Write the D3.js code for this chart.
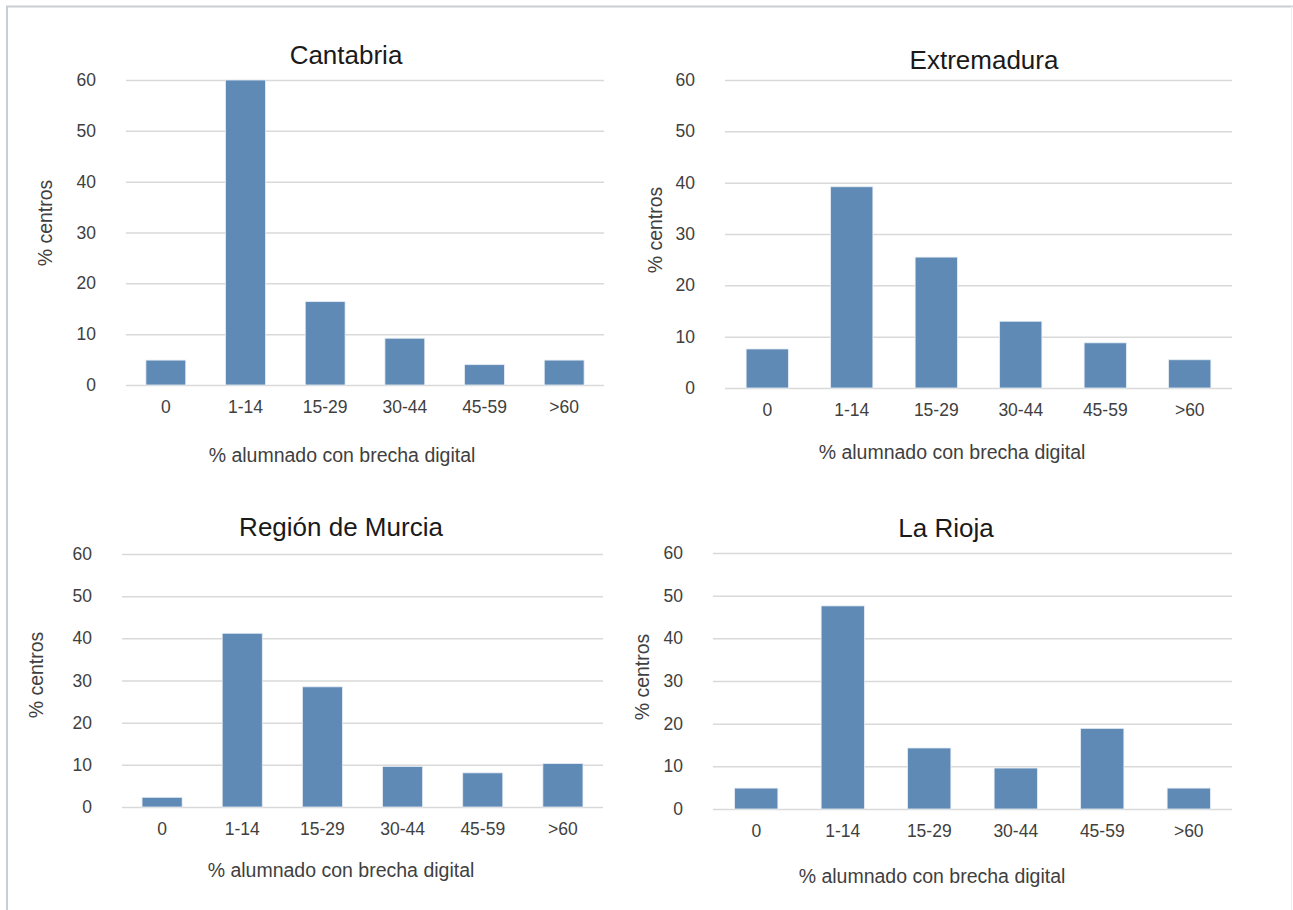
<!DOCTYPE html>
<html>
<head>
<meta charset="utf-8">
<script src="https://cdn.jsdelivr.net/npm/d3@7"></script>
<style>
    body { margin: 0; background: #fff; }
    svg { display: block; font-family: "Liberation Sans", Arial, sans-serif; }
    .tick text { fill: #404040; font-size: 17.5px; }
    .grid line { stroke: #d9d9d9; stroke-width: 1.5; }
    .panelTitle { fill: #1a1a1a; font-size: 26px; }
    .axisTitle { fill: #404040; font-size: 19.5px; }
</style>
</head>
<body>
<div id="root"></div>
<script>
// ---------------------------- DATA ----------------------------
const categories = ["0", "1-14", "15-29", "30-44", "45-59", ">60"];
const yTicks = [0, 10, 20, 30, 40, 50, 60];

const cantabriaValues = [4.9, 60, 16.4, 9.2, 4.0, 4.9];
const extremaduraValues = [7.6, 39.2, 25.5, 13.0, 8.8, 5.5];
const murciaValues = [2.3, 41.2, 28.5, 9.6, 8.1, 10.3];
const riojaValues = [4.9, 47.6, 14.3, 9.6, 18.9, 4.9];

const titles = ["Cantabria", "Extremadura", "Región de Murcia", "La Rioja"];
const xTitle = "% alumnado con brecha digital";
const yTitle = "% centros";

// ---------------------------- LAYOUT ----------------------------
const width = 1293;
const height = 910;
const barColour = "#5f8ab5";

// plot box, title centre, x title centre, y title centre for each panel
const panels = [
    { values: cantabriaValues, left: 126, right: 604, top: 80, bottom: 385, title: [346, 55], xt: [342, 455], yt: [45, 223] },
    { values: extremaduraValues, left: 725, right: 1232, top: 80, bottom: 388, title: [984, 60], xt: [952, 452], yt: [655, 230] },
    { values: murciaValues, left: 122, right: 603, top: 554, bottom: 807, title: [341, 527], xt: [341, 870], yt: [36, 675] },
    { values: riojaValues, left: 713, right: 1232, top: 553, bottom: 809, title: [946, 528], xt: [932, 876], yt: [642, 677] }
];

const svg = d3.select("#root")
    .append("svg")
    .attr("width", width)
    .attr("height", height);

// Outer frame (top, left and faint right edge)
svg.append("path")
    .attr("d", "M7,910 V6.5 H1293")
    .attr("fill", "none")
    .attr("stroke", "#c9ced2")
    .attr("stroke-width", 2);
svg.append("line")
    .attr("x1", 1291.5).attr("x2", 1291.5)
    .attr("y1", 6).attr("y2", 910)
    .attr("stroke", "#eceef0")
    .attr("stroke-width", 1);

// ---------------------------- DRAW PANELS ----------------------------
panels.forEach((p, idx) => {
    const x = d3.scaleBand()
        .domain(categories)
        .range([p.left, p.right])
        .paddingInner(0.5)
        .paddingOuter(0.25);
    const y = d3.scaleLinear()
        .domain([0, 60])
        .range([p.bottom, p.top]);

    // Gridlines and y tick labels
    svg.append("g")
        .attr("class", "grid")
        .attr("transform", "translate(" + p.left + ",0)")
        .call(d3.axisLeft(y).tickValues(yTicks).tickSize(-(p.right - p.left)).tickPadding(30))
        .call(g => g.select(".domain").remove());

    // Bars
    svg.append("g")
        .selectAll("rect")
        .data(p.values)
        .enter()
        .append("rect")
        .attr("x", (d, i) => x(categories[i]))
        .attr("y", d => y(d))
        .attr("width", x.bandwidth())
        .attr("height", d => y(0) - y(d))
        .attr("fill", barColour)
        .attr("stroke", "#e6edf5")
        .attr("stroke-width", 0.8);

    // Category labels
    svg.append("g")
        .attr("transform", "translate(0," + p.bottom + ")")
        .call(d3.axisBottom(x).tickSize(0).tickPadding(16))
        .call(g => g.select(".domain").remove());

    // Title
    svg.append("text")
        .attr("class", "panelTitle")
        .attr("x", p.title[0])
        .attr("y", p.title[1])
        .attr("dy", "0.35em")
        .attr("text-anchor", "middle")
        .text(titles[idx]);

    // Axis titles
    svg.append("text")
        .attr("class", "axisTitle")
        .attr("x", p.xt[0])
        .attr("y", p.xt[1])
        .attr("dy", "0.35em")
        .attr("text-anchor", "middle")
        .text(xTitle);
    svg.append("text")
        .attr("class", "axisTitle")
        .attr("transform", "translate(" + p.yt[0] + "," + p.yt[1] + ") rotate(-90)")
        .attr("dy", "0.35em")
        .attr("text-anchor", "middle")
        .text(yTitle);
});
</script>
</body>
</html>
